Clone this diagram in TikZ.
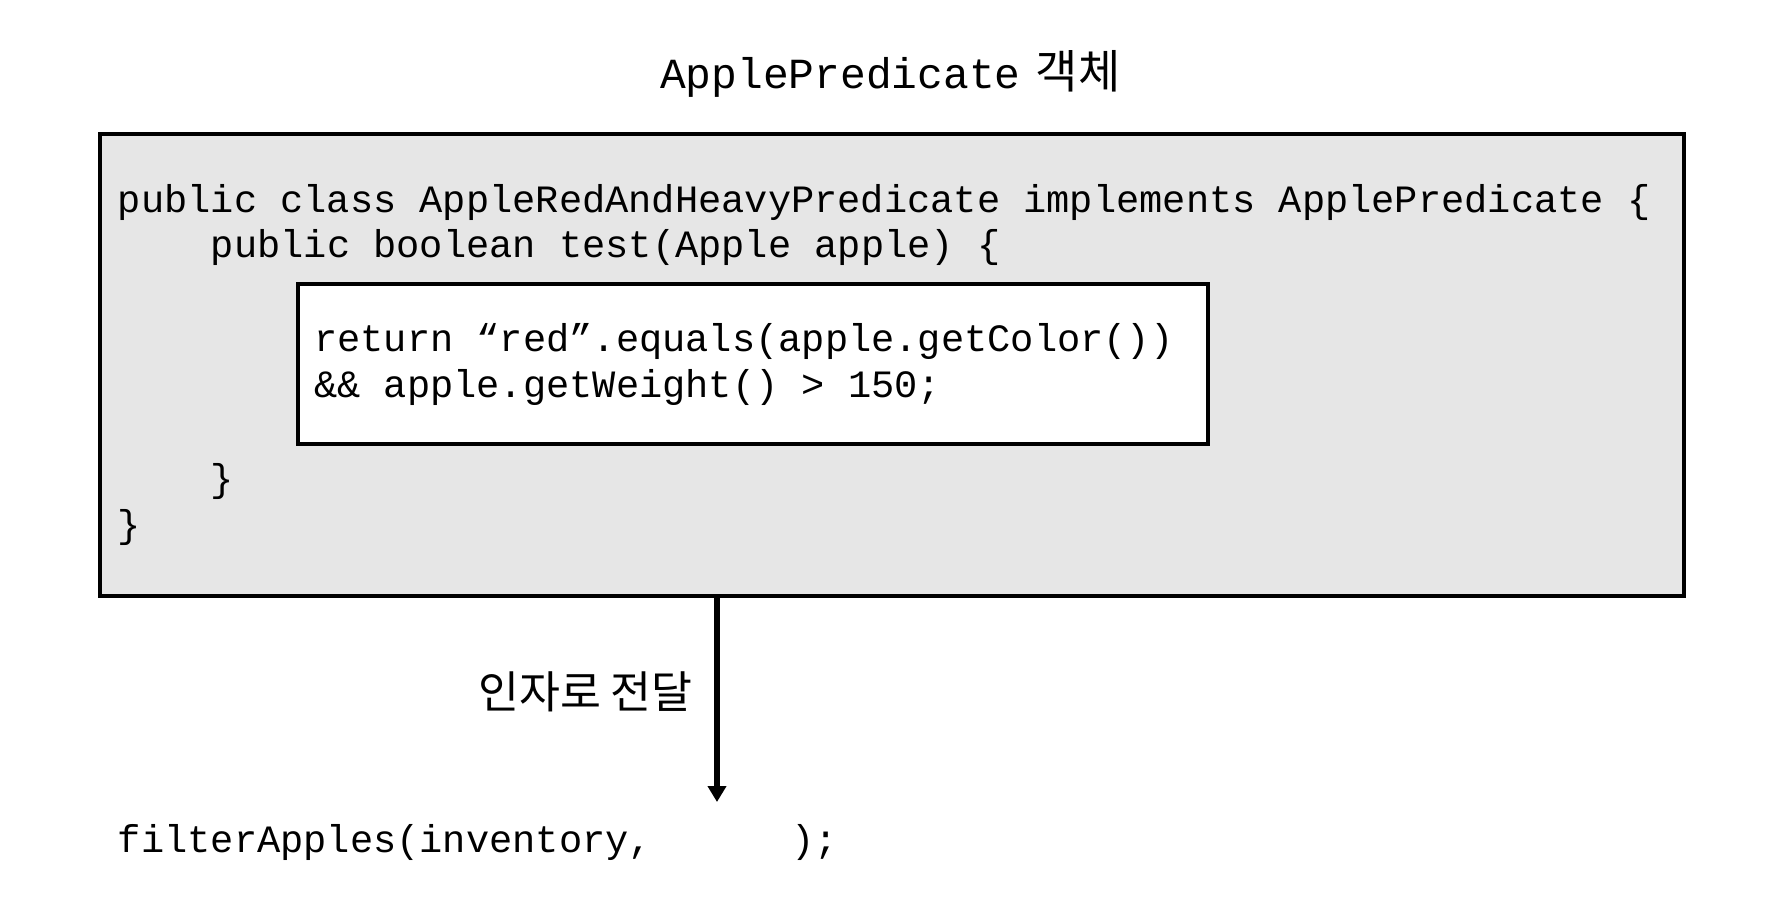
\documentclass[tikz,border=0pt]{standalone}
\usepackage{fontspec}
\usetikzlibrary{arrows.meta}
\newfontfamily\codefont{Liberation Mono}
\newfontfamily\krfont{Noto Sans CJK KR}
\definecolor{boxgray}{HTML}{E6E6E6}
\begin{document}
\begin{tikzpicture}[x=1pt,y=-1pt,
  codeline/.style={anchor=base west, inner sep=0pt, font=\codefont\fontsize{38.7}{46}\selectfont},
  frame/.style={draw=black, line width=4pt, inner sep=0pt, outer sep=0pt, anchor=north west},
  flow/.style={line width=6pt, -{Triangle[length=16pt,width=18pt]}}]
\useasboundingbox (0,0) rectangle (1792,924);
% title
\node[anchor=base west, inner sep=0pt] (title) at (660,88.5)
  {\codefont\fontsize{42.9}{50}\selectfont ApplePredicate\krfont\fontsize{46}{52}\selectfont\hspace{5pt}\ 객체};
% outer box
\node[frame, fill=boxgray, minimum width=1584pt, minimum height=462.3pt] (outer) at (100,133.7) {};
\node[codeline] (l1) at (117.7,212.5) {public class AppleRedAndHeavyPredicate implements ApplePredicate \{};
\node[codeline] (l2) at (210.7,257.5) {public boolean test(Apple apple) \{};
% inner box
\node[frame, fill=white, minimum width=910pt, minimum height=160.3pt] (inner) at (298,283.7) {};
\node[codeline] (r1) at (314,351.5) {return “red”.equals(apple.getColor())};
\node[codeline] (r2) at (314,397.5) {\&\& apple.getWeight() > 150;};
\node[codeline] (c1) at (210.7,491) {\}};
\node[codeline] (c2) at (117.7,537) {\}};
% call
\node[codeline] (call) at (117.7,852.5) {filterApples(inventory,\phantom{XXXXXX});};
\coordinate (tip) at (717,802);
\draw[flow] (outer.south -| tip) -- (tip);
\node[anchor=east, inner sep=0pt, font=\krfont\fontsize{44.5}{52}\selectfont] (lbl) at (693,692) {인자로 전달};
\end{tikzpicture}
\end{document}
